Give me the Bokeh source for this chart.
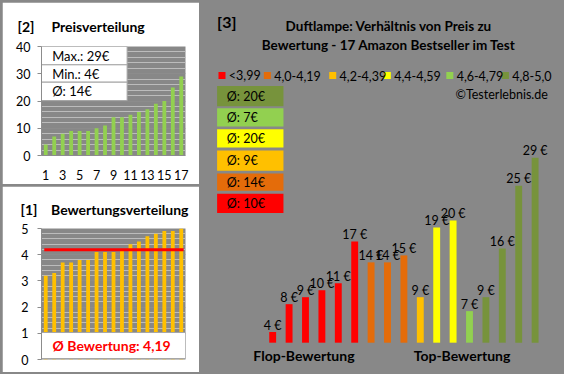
import numpy as np
from bokeh.plotting import figure
from bokeh.layouts import row, column
from bokeh.models import FixedTicker, Label
from bokeh.core.properties import value
from bokeh.embed import file_html
from bokeh.resources import INLINE

FONT = "Lato"

# ---------------- data ----------------
# products ordered by rating (as in panel [3])
ratings = [3.2, 3.3, 3.7, 3.7, 3.8, 3.8, 4.1, 4.1, 4.1, 4.2, 4.4, 4.5, 4.7, 4.8, 4.9, 4.9, 5.0]
prices = [4, 8, 9, 10, 11, 17, 14, 14, 15, 9, 19, 20, 7, 9, 16, 25, 29]
group_labels = ["<3,99", "4,0-4,19", "4,2-4,39", "4,4-4,59", "4,6-4,79", "4,8-5,0"]
group_colors = ["#FF0000", "#E46C0A", "#FFC000", "#FFFF00", "#92D050", "#77933C"]
group_bounds = [4.0, 4.2, 4.4, 4.6, 4.8]
price_ticks = [0, 10, 20, 30, 40]
rating_ticks = [0, 1, 2, 3, 4, 5]
product_ticks = [1, 3, 5, 7, 9, 11, 13, 15, 17]

n = len(prices)
idx = list(range(1, n + 1))
groups = [int(np.searchsorted(group_bounds, r, side="right")) for r in ratings]
bar_colors = [group_colors[g] for g in groups]
group_avg = [round(np.mean([p for p, g in zip(prices, groups) if g == k])) for k in range(6)]
avg_rating = float(np.mean(ratings))

TXT = "#000000"
GRID_MAJ = "#8c8c8c"
GRID_MIN = "#bcbcbc"
NB = "\u00a0"


def borders(panel, frame, W, H):
    px0, py0, px1, py1 = panel
    fx0, fy0, fx1, fy1 = frame
    sx = W / (px1 - px0)
    sy = H / (py1 - py0)
    return dict(min_border_left=round((fx0 - px0) * sx), min_border_right=round((px1 - fx1) * sx),
                min_border_top=round((fy0 - py0) * sy), min_border_bottom=round((py1 - fy1) * sy))


def mapper(frame, xr, yr):
    fx0, fy0, fx1, fy1 = frame

    def X(px):
        return xr[0] + (px - fx0) / (fx1 - fx0) * (xr[1] - xr[0])

    def Y(py):
        return yr[0] + (fy1 - py) / (fy1 - fy0) * (yr[1] - yr[0])
    return X, Y


def base_fig(W, H, xr, yr, panel, frame, **kw):
    p = figure(width=W, height=H, x_range=xr, y_range=yr, output_backend="svg",
               toolbar_location=None, **borders(panel, frame, W, H), **kw)
    p.outline_line_color = None
    p.border_fill_color = "white"
    p.background_fill_color = None
    return p


def style_yaxis(p, ticks, minor, standoff):
    t = FixedTicker(ticks=ticks, minor_ticks=minor)
    p.yaxis.ticker = t
    p.ygrid.ticker = t
    p.ygrid.grid_line_color = GRID_MAJ
    p.ygrid.minor_grid_line_color = GRID_MIN
    p.xgrid.visible = False
    p.yaxis.minor_tick_line_color = None
    p.yaxis.major_tick_out = 4
    p.yaxis.major_tick_in = 0
    p.yaxis.axis_line_color = GRID_MAJ
    p.yaxis.major_tick_line_color = GRID_MAJ
    p.yaxis.major_label_text_font = FONT
    p.yaxis.major_label_text_font_size = "12.5px"
    p.yaxis.major_label_text_color = TXT
    p.yaxis.major_label_standoff = standoff


def set_title(p, text, offset, standoff):
    p.title.text = text
    p.title.align = "left"
    p.title.offset = offset
    p.title.standoff = standoff
    p.title.text_font = FONT
    p.title.text_font_size = "14px"
    p.title.text_font_style = "bold"
    p.title.text_color = TXT


# ---------------- panel [2] Preisverteilung ----------------
P2 = (2, 2, 204, 191)
F2 = (42, 48, 190, 161)
W2, H2 = 197, 182
xr2, yr2 = (0.5, 17.5), (0, 40)
X2, Y2 = mapper(F2, xr2, yr2)
p2 = base_fig(W2, H2, xr2, yr2, P2, F2)
style_yaxis(p2, price_ticks, list(range(0, 41, 2)), 7)
p2.xaxis.ticker = FixedTicker(ticks=product_ticks)
p2.xaxis.axis_line_color = GRID_MAJ
p2.xaxis.major_tick_line_color = None
p2.xaxis.minor_tick_line_color = None
p2.xaxis.major_tick_out = 0
p2.xaxis.major_label_standoff = 14
p2.xaxis.major_label_text_font = FONT
p2.xaxis.major_label_text_font_size = "12.5px"
p2.xaxis.major_label_text_color = TXT
p2.vbar(x=idx, top=sorted(prices), width=0.45, fill_color="#92D050", line_color=None)

row_edges = [Y2(48), Y2(67), Y2(85), Y2(104)]
p2.quad(left=[0.5] * 3, right=[X2(130)] * 3, top=row_edges[:3], bottom=row_edges[1:],
        fill_color="white", line_color="#a6a6a6", line_width=1)
stats = [f"Max.: {max(prices)}€", f"Min.: {min(prices)}€", f"Ø: {round(np.mean(prices))}€"]
p2.text(x=[X2(53)] * 3, y=[(a + b) / 2 for a, b in zip(row_edges[:3], row_edges[1:])], text=stats,
        text_font=value(FONT), text_font_size="13px", text_baseline="middle", text_color=TXT)
set_title(p2, "[2]" + NB * 5 + "Preisverteilung", -24, 23)

# ---------------- panel [1] Bewertungsverteilung ----------------
P1 = (2, 194, 204, 387)
F1 = (35, 238, 191, 374)
W1, H1 = 197, 186
xr1, yr1 = (0.5, 17.5), (0, 5)
X1, Y1 = mapper(F1, xr1, yr1)
p1 = base_fig(W1, H1, xr1, yr1, P1, F1, x_axis_location=None)
style_yaxis(p1, rating_ticks, [i / 5 for i in range(26)], 9)
p1.vbar(x=idx, top=ratings, width=0.45, fill_color="#FFC000", line_color=None)
p1.segment(x0=[X1(38)], x1=[X1(189)], y0=[avg_rating], y1=[avg_rating], line_color="#FF0000", line_width=3)
p1.quad(left=[0.5], right=[17.5], top=[Y1(346)], bottom=[Y1(373)], fill_color="white",
        line_color="#a6a6a6", line_width=1)
p1.text(x=[X1(111)], y=[Y1(359.5)], text=[f"Ø Bewertung: {avg_rating:.2f}".replace(".", ",")],
        text_font=value(FONT), text_font_size="14px", text_font_style="bold", text_color="#FF0000",
        text_align="center", text_baseline="middle")
set_title(p1, "[1]" + NB * 4 + "Bewertungsverteilung", -21, 22)

# ---------------- panel [3] Preis vs. Bewertung ----------------
P3 = (207, 2, 577, 387)
F3 = P3
W3, H3 = 361, 370
BASE = 2.47            # value axis minimum at the bar baseline
xr3, yr3 = (-3.34, 18.67), (-1.81, 51.3)
X3, Y3 = mapper(F3, xr3, yr3)
p3 = base_fig(W3, H3, xr3, yr3, P3, F3, x_axis_location=None, y_axis_location=None)
p3.grid.visible = False
p3.vbar(x=idx, top=prices, bottom=BASE, width=0.42, fill_color=bar_colors, line_color=None)
p3.text(x=idx, y=prices, text=[f"{v} €" for v in prices], text_font=value(FONT), text_font_size="12.5px",
        text_align="center", text_baseline="alphabetic", y_offset=-7, text_color=TXT)


def label(p, x, y, txt, size="14px", bold=True, align="left"):
    p.add_layout(Label(x=x, y=y, text=txt, text_font=FONT, text_font_style="bold" if bold else "normal",
                       text_font_size=size, text_align=align, text_baseline="middle", text_color=TXT))


label(p3, X3(223), Y3(22), "[3]", "16px")
label(p3, X3(399), Y3(26), "Duftlampe: Verhältnis von Preis zu", "13.5px", align="center")
label(p3, X3(399), Y3(46), "Bewertung - 17 Amazon Bestseller im Test", "13.5px", align="center")

# legend row
leg_x = [228, 274.5, 341.5, 397.5, 461.5, 518.5]
p3.scatter(x=[X3(v) for v in leg_x], y=[Y3(78)] * 6, marker="square", size=7,
           fill_color=group_colors, line_color=None)
p3.text(x=[X3(v + 7) for v in leg_x], y=[Y3(78)] * 6, text=group_labels, text_font=value(FONT),
        text_font_size="12.5px", text_baseline="middle", text_color=TXT)
label(p3, X3(562), Y3(98), "©Testerlebnis.de", "12.5px", bold=False, align="right")

# group average boxes (top to bottom: best group first)
box_tops = [89, 112, 134, 156, 180, 201]
box_bots = [110, 131, 153, 177, 198, 221]
order = list(range(5, -1, -1))
p3.quad(left=[X3(223)] * 6, right=[X3(291)] * 6, top=[Y3(v) for v in box_tops],
        bottom=[Y3(v) for v in box_bots], fill_color=[group_colors[k] for k in order], line_color=None)
p3.text(x=[X3(233)] * 6, y=[Y3((a + b) / 2) for a, b in zip(box_tops, box_bots)],
        text=[f"Ø: {group_avg[k]}€" for k in order], text_font=value(FONT), text_font_size="12.5px",
        text_baseline="middle", text_color=TXT)

label(p3, X3(312), Y3(369), "Flop-Bewertung", align="center")
label(p3, X3(474), Y3(369), "Top-Bewertung", align="center")

layout = row(column(p2, p1, spacing=2), p3, spacing=2,
             styles={"background-color": "#888888", "padding": "2px"})

open("out.html", "w").write(file_html(layout, INLINE))
